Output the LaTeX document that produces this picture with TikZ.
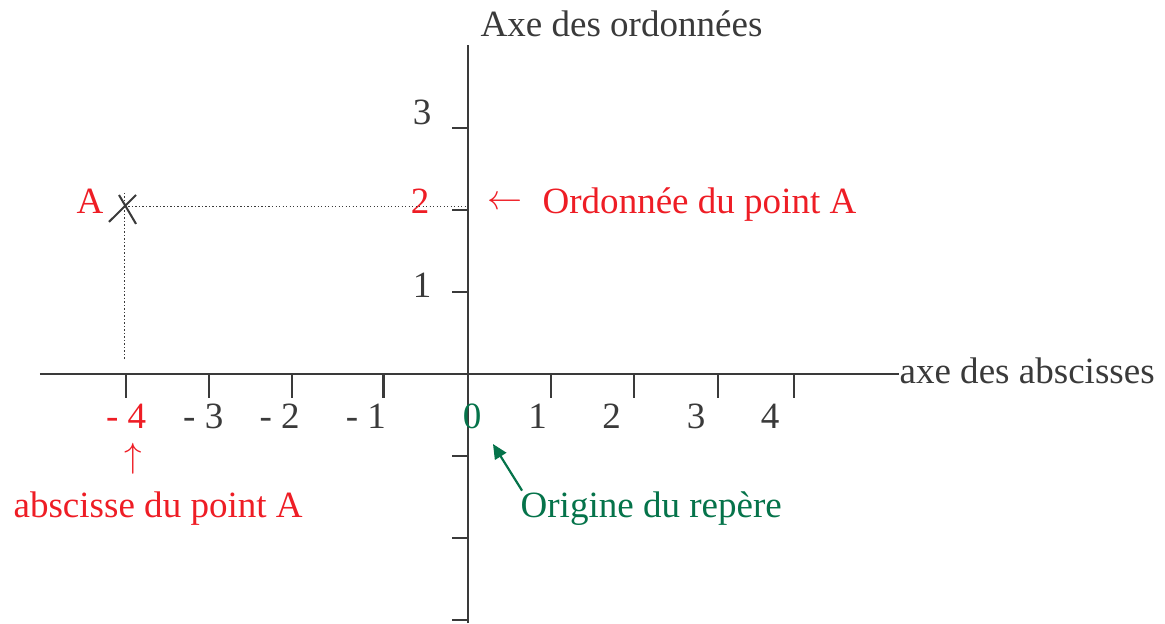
\documentclass[tikz,border=0pt]{standalone}
\usepackage{fontspec}
\setmainfont{Liberation Serif}
\usetikzlibrary{arrows.meta}
\definecolor{axisgray}{HTML}{3A3A3A}
\definecolor{pointred}{HTML}{EE1D25}
\definecolor{origgreen}{HTML}{05734A}
\tikzset{
axisline/.style={draw=axisgray, line width=0.8pt},
guide/.style={draw=axisgray, line width=0.35pt, dash pattern=on 0.4pt off 0.8pt},
lbl/.style={inner sep=0pt, anchor=base, text=axisgray},
redlbl/.style={lbl, text=pointred},
greenlbl/.style={lbl, text=origgreen},
origarrow/.style={draw=origgreen, line width=0.75pt, -{Triangle[length=5pt,width=4.5pt]}}
}

\begin{document}
\begin{tikzpicture}[x=1cm, y=0.988cm, font=\fontsize{12.7pt}{15pt}\selectfont]
\useasboundingbox (-5.639,-3.037) rectangle (8.398,4.561);
\coordinate (O) at (0,0);
\coordinate (xmin) at (-5.157,0);
\coordinate (ymax) at (0,4.012);
\coordinate (ymin) at (0,-3.037);
\node[lbl, anchor=base west] (xname) at (5.193,-0.122) {axe des abscisses};
\node[lbl, anchor=base west] (yname) at (0.145,4.11) {Axe des ordonnées};
\draw[axisline] (xmin) -- (xname.west |- O);
\draw[axisline, line width=0.9pt] (ymin) -- (ymax);
\foreach \t/\c/\l/\s [count=\i] in {-4.12/-4.12/- 4/redlbl, -3.12/-3.19/- 3/lbl,
  -2.12/-2.27/- 2/lbl, -1.02/-1.23/- 1/lbl, 1.0/0.84/1/lbl, 2.0/1.73/2/lbl,
  3.01/2.75/3/lbl, 3.93/3.64/4/lbl}{
  \draw[axisline] (\t,0) -- (\t,-0.29);
  \node[\s] (xt\i) at (\c,-0.659) {\l};
}
\node[greenlbl] (zero) at (0.05,-0.659) {0};
\foreach \y in {3,2,1,-1,-2,-3}
  \draw[axisline] (0,\y) -- (-0.193,\y);
\node[lbl] (yt3) at (-0.554,3.04) {3};
\node[redlbl] (yt2) at (-0.578,1.96) {2};
\node[lbl] (yt1) at (-0.554,0.93) {1};
\coordinate (A) at (-4.133,2.037);
\draw[guide] (A) -- (A -| O);
\draw[guide] ([yshift=0.17cm]A) -- (A |- 0,0.183);
\draw[axisline, line width=0.7pt] (A) ++(-0.193,-0.183) -- ++(0.326,0.329)
  (A) ++(-0.072,0.146) -- ++(0.205,-0.353);
\node[redlbl] (Alab) at (-4.554,1.963) {A};
\node[redlbl, anchor=center] (ordarrow) at (0.446,2.085) {$\leftarrow$};
\node[redlbl, anchor=base west] (ordtext) at (0.892,1.963) {Ordonnée du point A};
\node[redlbl] (absarrow) at (-4.036,-1.14) {\smash{$\uparrow$}};
\node[redlbl, anchor=base west] (abstext) at (-5.482,-1.744) {abscisse du point A};
\node[greenlbl, anchor=base west] (orig) at (0.627,-1.744) {Origine du repère};
\coordinate (tip) at (0.301,-0.854);
\draw[origarrow] ([xshift=0.7pt]orig.north west) -- (tip);
\end{tikzpicture}
\end{document}
